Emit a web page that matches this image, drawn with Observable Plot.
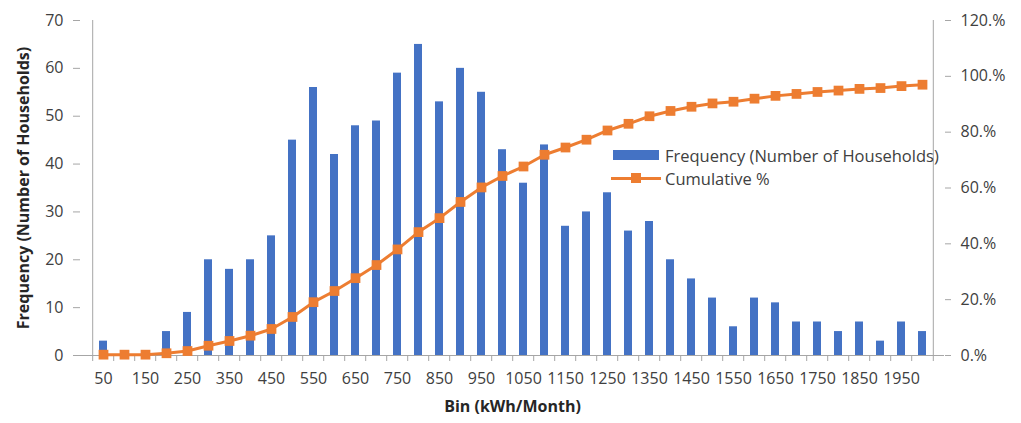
<!DOCTYPE html>
<html>
<head>
<meta charset="utf-8">
<script src="https://cdn.jsdelivr.net/npm/d3@7"></script>
<script src="https://cdn.jsdelivr.net/npm/@observablehq/plot@0.6"></script>
<style>
  body { margin: 0; background: #fff; }
  #chart { position: relative; width: 1021px; height: 423px; font-family: "Open Sans", sans-serif; }
  #chart svg { display: block; }
  .legend { position: absolute; left: 611px; font-size: 16.5px; color: #404040; }
  .legend .row { display: flex; align-items: center; height: 23px; }
  .legend .sw { width: 50px; height: 23px; position: relative; margin-right: 4px; }
  .legend .bar { position: absolute; left: 2px; top: 6px; width: 46px; height: 10px; background: #4472C4; }
  .legend .ln { position: absolute; left: 0; top: 10px; width: 50px; height: 3px; background: #ED7D31; }
  .legend .mk { position: absolute; left: 20px; top: 6px; width: 10px; height: 10px; background: #ED7D31; }
</style>
</head>
<body>
<div id="chart"></div>
<script>
// ---- data ----
const bins = [50,100,150,200,250,300,350,400,450,500,550,600,650,700,750,800,850,900,950,1000,
              1050,1100,1150,1200,1250,1300,1350,1400,1450,1500,1550,1600,1650,1700,1750,1800,1850,1900,1950,2000];
const frequency = [3,0,0,5,9,20,18,20,25,45,56,42,48,49,59,65,53,60,55,43,
                   36,44,27,30,34,26,28,20,16,12,6,12,11,7,7,5,7,3,7,5];
const cumulativePct = [0.3,0.3,0.3,0.8,1.6,3.5,5.2,7.1,9.5,13.8,19.1,23.1,27.7,32.4,38.0,44.2,49.2,55.0,60.2,64.3,
                       67.7,71.9,74.5,77.3,80.6,83.0,85.7,87.6,89.1,90.3,90.9,92.0,93.0,93.7,94.4,94.9,95.5,95.8,96.5,97.0];
const leftTicks = [0,10,20,30,40,50,60,70];
const rightTicks = [0,20,40,60,80,100,120];
const xTickLabels = [50,150,250,350,450,550,650,750,850,950,1050,1150,1250,1350,1450,1550,1650,1750,1850,1950];
const leftTitle = "Frequency (Number of Households)";
const xTitle = "Bin (kWh/Month)";
const seriesNames = ["Frequency (Number of Households)", "Cumulative %"];

// ---- layout ----
const W = 1021, H = 423;
const mL = 80, mR = 77, mT = 20, mB = 68;
const step = (W - mL - mR) / bins.length;
const yMax = 70, pMax = 120;
const toLeft = p => p * yMax / pMax;   // map percent onto the left (frequency) scale

const rows = bins.map((b, i) => ({bin: b, freq: frequency[i], cum: toLeft(cumulativePct[i])}));
const axisGray = "#a6a6a6";
const textCol = "#404040";

const plot = Plot.plot({
  width: W, height: H,
  marginLeft: mL, marginRight: mR, marginTop: mT, marginBottom: mB,
  style: {fontFamily: "'Open Sans', sans-serif", fontSize: "16px", color: textCol, background: "#fff", overflow: "visible"},
  x: {type: "band", domain: bins, paddingInner: 0.62, paddingOuter: 0.31},
  y: {domain: [0, yMax]},
  marks: [
    // axis lines
    Plot.ruleY([0], {stroke: axisGray}),
    Plot.ruleX([bins[0]], {dx: -step / 2, y1: 0, y2: yMax, stroke: axisGray}),
    Plot.ruleX([bins[bins.length - 1]], {dx: step / 2, y1: 0, y2: yMax, stroke: axisGray}),
    // category boundary ticks on the x axis
    Plot.ruleX(bins, {x: d => d, dx: -step / 2, y1: 0, y2: 0, insetBottom: -6, stroke: axisGray}),
    Plot.ruleX([bins[bins.length - 1]], {dx: step / 2, y1: 0, y2: 0, insetBottom: -6, stroke: axisGray}),
    // bars
    Plot.barY(rows, {x: "bin", y: "freq", fill: "#4472C4"}),
    // cumulative line
    Plot.line(rows, {x: "bin", y: "cum", stroke: "#ED7D31", strokeWidth: 3}),
    Plot.dot(rows, {x: "bin", y: "cum", symbol: "square", r: 5.5, fill: "#ED7D31", stroke: "none"}),
    // axes
    Plot.axisY({ticks: leftTicks, tickSize: 7, tickPadding: 10, label: null, stroke: axisGray, fill: textCol, fontSize: 16}),
    Plot.axisY({anchor: "right", ticks: rightTicks.map(toLeft), tickSize: 6, tickPadding: 10, label: null,
                tickFormat: v => Math.round(v * pMax / yMax) + ".%", stroke: axisGray, fill: textCol, fontSize: 16}),
    Plot.axisX({ticks: xTickLabels, tickFormat: d => String(d), tickSize: 0, tickPadding: 17, label: null, fill: textCol, fontSize: 16}),
    // axis titles
    Plot.text([leftTitle], {frameAnchor: "left", text: d => d, rotate: -90, textAnchor: "middle", dx: -57,
                            fontWeight: "bold", fontSize: 16, fill: "#262626"}),
    Plot.text([xTitle], {frameAnchor: "bottom", text: d => d, dy: 56, fontWeight: "bold", fontSize: 16, fill: "#262626"})
  ]
});
const chart = document.getElementById("chart");
chart.appendChild(plot);

// legend (inside the plot area)
const legend = document.createElement("div");
legend.className = "legend";
legend.style.top = "144px";
legend.innerHTML =
  `<div class="row"><div class="sw"><div class="bar"></div></div><span>${seriesNames[0]}</span></div>` +
  `<div class="row"><div class="sw"><div class="ln"></div><div class="mk"></div></div><span>${seriesNames[1]}</span></div>`;
chart.appendChild(legend);
</script>
</body>
</html>
